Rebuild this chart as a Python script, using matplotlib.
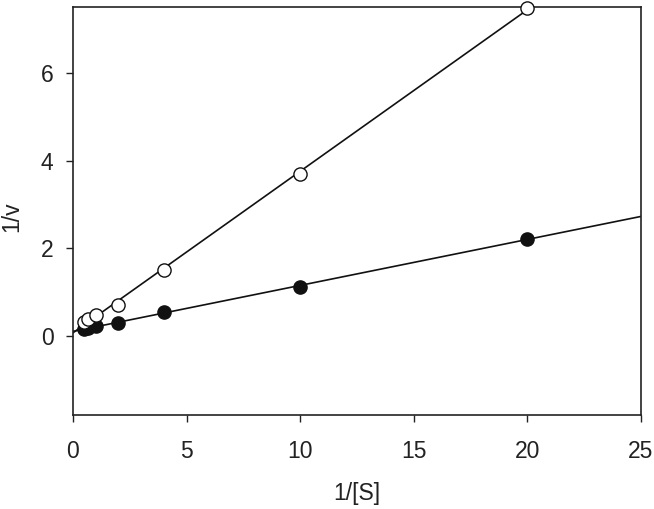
import numpy as np
import matplotlib
matplotlib.use('Agg')
import matplotlib.pyplot as plt

plt.rcParams['font.family'] = ['Liberation Sans', 'DejaVu Sans']

# data
inv_s = [0.5, 0.667, 1, 2, 4, 10, 20]
inv_v_open = [0.33, 0.38, 0.48, 0.70, 1.50, 3.70, 7.48]
inv_v_filled = [0.16, 0.18, 0.22, 0.30, 0.55, 1.11, 2.22]

xlim = (0, 25)
ylim = (-1.8, 7.5)
xticks = [0, 5, 10, 15, 20, 25]
yticks = [0, 2, 4, 6]

fig = plt.figure(figsize=(6.54, 5.09), dpi=100)
ax = fig.add_axes([0.1116, 0.1847, 0.8685, 0.8015])

x_line = np.array([0, 25])
# regression lines through each set
k_o, b_o = np.polyfit(inv_s, inv_v_open, 1)
k_f, b_f = np.polyfit(inv_s, inv_v_filled, 1)
ax.plot(x_line, k_o * x_line + b_o, color='#111111', lw=1.2, zorder=2)
ax.plot(x_line, k_f * x_line + b_f, color='#111111', lw=1.2, zorder=2)

ax.plot(inv_s, inv_v_filled, 'o', ms=9.5, mfc='#111111', mec='#111111', mew=1, zorder=3, clip_on=False)
ax.plot(inv_s, inv_v_open, 'o', ms=9.5, mfc='white', mec='#111111', mew=1, zorder=4, clip_on=False)

ax.set_xlim(*xlim)
ax.set_ylim(*ylim)
ax.set_xticks(xticks)
ax.set_yticks(yticks)
ax.tick_params(axis='both', direction='out', length=5, width=1, colors='#222222', labelsize=16.5)
ax.tick_params(axis='x', pad=13)
ax.tick_params(axis='y', pad=9)
for sp in ax.spines.values():
    sp.set_linewidth(1.2)
    sp.set_color('#222222')

ax.set_xlabel('1/[S]', fontsize=16.5, color='#222222', labelpad=14)
ax.set_ylabel('1/v', fontsize=16.5, color='#222222')
ax.yaxis.set_label_coords(-0.088, 0.485)

fig.savefig('out.png', dpi=100)
